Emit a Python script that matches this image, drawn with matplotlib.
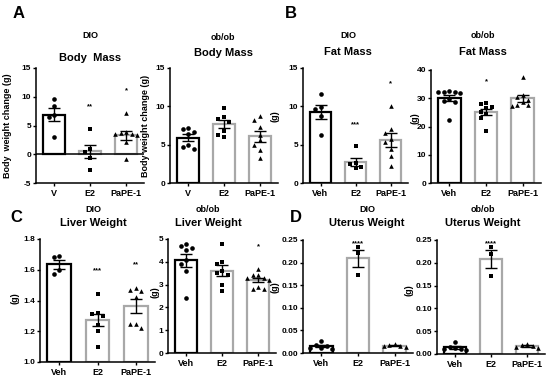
import numpy as np
import matplotlib
matplotlib.use("Agg")
import matplotlib.pyplot as plt

plt.rcParams['font.family'] = ['Liberation Sans', 'DejaVu Sans']
plt.rcParams['font.weight'] = 'bold'

# ---- data ----
groups_v = ["V", "E2", "PaPE-1"]
groups = ["Veh", "E2", "PaPE-1"]

dio_body_veh = [9.6, 8.4, 6.9, 6.5, 3.0]
dio_body_e2 = [4.4, 1.0, 0.4, -0.6, -2.7]
dio_body_pape = [7.2, 3.7, 3.6, 3.5, 3.8, 3.4, 2.2, -0.8]
dio_body_sig = ["", "**", "*"]

ob_body_veh = [7.2, 6.7, 7.0, 6.4, 5.0, 4.5, 4.7]
ob_body_e2 = [9.8, 8.3, 8.0, 8.6, 6.8, 6.0, 6.2]
ob_body_pape = [8.8, 8.2, 7.3, 6.3, 5.6, 5.0, 4.3, 3.2]
ob_body_sig = ["", "", ""]

dio_fat_veh = [11.6, 9.9, 9.7, 8.7, 6.3]
dio_fat_e2 = [4.8, 2.6, 2.5, 2.1, 1.9]
dio_fat_pape = [10.1, 7.1, 6.5, 5.8, 5.3, 4.4, 3.5, 2.2]
dio_fat_sig = ["", "***", "*"]

ob_fat_veh = [32.4, 32.1, 31.8, 32.2, 32.3, 29.8, 29.0, 28.5, 22.2]
ob_fat_e2 = [28.4, 28.0, 27.0, 26.5, 25.0, 24.3, 23.0, 18.3]
ob_fat_pape = [37.5, 31.0, 30.5, 29.5, 28.5, 27.5, 27.3, 27.5]
ob_fat_sig = ["", "*", ""]

dio_liver_veh = [1.69, 1.68, 1.60, 1.57]
dio_liver_e2 = [1.44, 1.32, 1.31, 1.30, 1.24, 1.20, 1.10]
dio_liver_pape = [1.48, 1.46, 1.47, 1.42, 1.25, 1.22, 1.25]
dio_liver_sig = ["", "***", "**"]

ob_liver_veh = [4.8, 4.6, 4.5, 4.7, 4.1, 3.9, 3.6, 2.4]
ob_liver_e2 = [4.8, 4.0, 3.9, 3.6, 3.5, 3.4, 3.0, 2.7]
ob_liver_pape = [3.7, 3.4, 3.4, 3.3, 3.3, 3.2, 2.9, 2.8, 2.8]
ob_liver_sig = ["", "", "*"]

dio_ut_veh = [0.026, 0.018, 0.015, 0.012, 0.010, 0.008]
dio_ut_e2 = [0.234, 0.221, 0.173]
dio_ut_pape = [0.019, 0.018, 0.016, 0.015, 0.014]
dio_ut_sig = ["", "****", ""]

ob_ut_veh = [0.026, 0.016, 0.014, 0.012, 0.010, 0.009]
ob_ut_e2 = [0.234, 0.219, 0.172]
ob_ut_pape = [0.022, 0.019, 0.017, 0.015, 0.013]
ob_ut_sig = ["", "****", ""]

W, H = 550, 376
fig = plt.figure(figsize=(W / 100, H / 100), dpi=100)

edge_cols = ["black", "#a8a8a8", "#a8a8a8"]
markers = ["o", "s", "^"]


def swarm(vals, ypx, xpx, d=5.5):
    # simple beeswarm in pixel space, returns x offsets in data units
    vals = np.asarray(vals, float)
    ys = vals * ypx
    placed = []
    offs = np.zeros(len(vals))
    cands = [0]
    for k in range(1, 8):
        cands += [-k * d, k * d]
    for i in np.argsort(-vals):
        for c in cands:
            if all((c - px) ** 2 + (ys[i] - py) ** 2 >= (d * 0.95) ** 2 for px, py in placed):
                break
        placed.append((c, ys[i]))
        offs[i] = c / xpx
    return offs


def panel(box, data, labels, ylim, yticks, fmt, sig, ylab, lab_pos, base=0, zero_line=False):
    x0, x1, yt, yb = box
    ax = fig.add_axes([x0 / W, 1 - yb / H, (x1 - x0) / W, (yb - yt) / H])
    rng = ylim[1] - ylim[0]
    ypx = (yb - yt) / rng
    xpx = (x1 - x0) / 3
    for i, vals in enumerate(data):
        vals = np.asarray(vals)
        m = vals.mean()
        sem = vals.std(ddof=1) / np.sqrt(len(vals))
        ax.bar(i, m - base, bottom=base, width=0.62, color="white",
               edgecolor=edge_cols[i], linewidth=1.6, zorder=1)
        ax.scatter(i + swarm(vals, ypx, xpx), vals, marker=markers[i],
                   s=11, color="black", linewidths=0, zorder=3)
        ax.errorbar(i, m, yerr=sem, color="black", capsize=4, elinewidth=1,
                    capthick=1, zorder=4)
        if sig[i]:
            top = min(vals.max() + rng * 0.19, ylim[1] - rng * 0.03)
            ax.text(i, top, sig[i], ha="center", va="center", fontsize=5.5)
    if zero_line:
        ax.axhline(0, color="black", lw=1.1, zorder=2)
    ax.set_xlim(-0.5, 2.5)
    ax.set_ylim(*ylim)
    ax.set_yticks(yticks)
    ax.set_yticklabels([fmt.format(t) for t in yticks])
    ax.set_xticks(range(3))
    ax.set_xticklabels(labels)
    for s in ["top", "right"]:
        ax.spines[s].set_visible(False)
    for s in ["left", "bottom"]:
        ax.spines[s].set_linewidth(1.1)
    ax.tick_params(axis="y", length=2.5, width=1, labelsize=6, pad=1)
    ax.tick_params(axis="x", length=2, width=1, labelsize=6.5, pad=2)
    ax.set_ylabel(ylab, fontsize=6.5, fontweight="bold")
    lx, ly = lab_pos
    ax.yaxis.set_label_coords((lx - x0) / (x1 - x0), (yb - ly) / (yb - yt))
    return ax


panel((36, 144, 68, 183), [dio_body_veh, dio_body_e2, dio_body_pape], groups_v,
      (-5, 15), [-5, 0, 5, 10, 15], "{:g}", dio_body_sig,
      "Body  weight change (g)", (12, 126), zero_line=True)
panel((170, 278, 68, 183), [ob_body_veh, ob_body_e2, ob_body_pape], groups_v,
      (0, 15), [0, 5, 10, 15], "{:g}", ob_body_sig,
      "Body weight change (g)", (150, 126))
panel((303, 408, 68, 183), [dio_fat_veh, dio_fat_e2, dio_fat_pape], groups,
      (0, 15), [0, 5, 10, 15], "{:g}", dio_fat_sig, "(g)", (279, 116))
panel((431, 541, 70, 183), [ob_fat_veh, ob_fat_e2, ob_fat_pape], groups,
      (0, 40), [0, 10, 20, 30, 40], "{:g}", ob_fat_sig, "(g)", (420, 118))
panel((40, 155, 239, 362), [dio_liver_veh, dio_liver_e2, dio_liver_pape], groups,
      (1.0, 1.8), [1.0, 1.2, 1.4, 1.6, 1.8], "{:.1f}", dio_liver_sig, "(g)", (20, 298),
      base=1.0)
panel((168, 276, 239, 353), [ob_liver_veh, ob_liver_e2, ob_liver_pape], groups,
      (0, 5), [0, 1, 2, 3, 4, 5], "{:g}", ob_liver_sig, "(g)", (160, 292))
panel((303, 413, 240, 353), [dio_ut_veh, dio_ut_e2, dio_ut_pape], groups,
      (0, 0.25), [0, 0.05, 0.10, 0.15, 0.20, 0.25], "{:.2f}", dio_ut_sig, "(g)", (280, 287))
panel((437, 545, 240, 354), [ob_ut_veh, ob_ut_e2, ob_ut_pape], groups,
      (0, 0.25), [0, 0.05, 0.10, 0.15, 0.20, 0.25], "{:.2f}", ob_ut_sig, "(g)", (413, 290))


def ftext(x, y, s, **kw):
    fig.text(x / W, 1 - y / H, s, ha="center", va="center", fontweight="bold", **kw)


# panel letters
for x, y, s in [(19, 14, "A"), (291, 14, "B"), (16, 218, "C"), (296, 218, "D")]:
    ftext(x, y, s, fontsize=12)

# titles
titles = [(90, 35, 58, "DIO", "Body  Mass"), (223, 37, 53, "ob/ob", "Body Mass"),
          (348, 36, 52, "DIO", "Fat Mass"), (483, 35, 52, "ob/ob", "Fat Mass"),
          (93, 210, 223, "DIO", "Liver Weight"), (208, 210, 223, "ob/ob", "Liver Weight"),
          (367, 210, 223, "DIO", "Uterus Weight"), (483, 210, 223, "ob/ob", "Uterus Weight")]
for x, y1, y2, t1, t2 in titles:
    ftext(x, y1, t1, fontsize=6.5)
    ftext(x, y2, t2, fontsize=8)

fig.savefig("out.png", dpi=100)
